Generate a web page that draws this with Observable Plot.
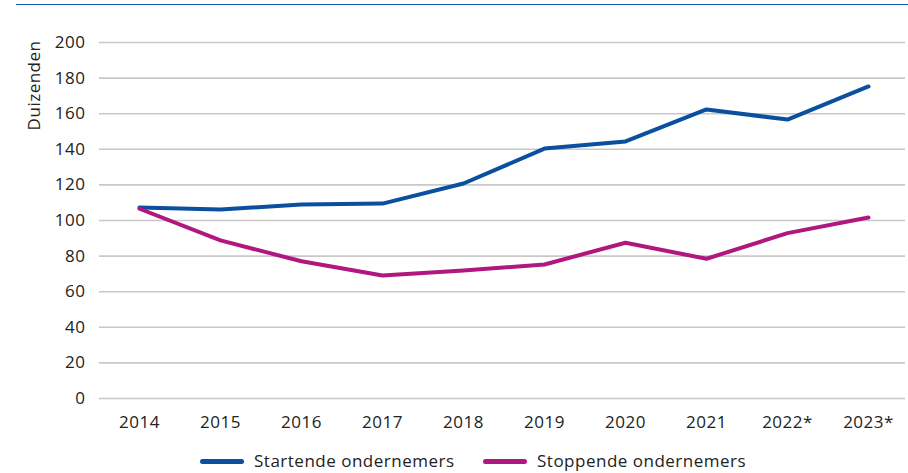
<!DOCTYPE html>
<html>
<head>
<meta charset="utf-8">
<script src="https://cdn.jsdelivr.net/npm/d3@7"></script>
<script src="https://cdn.jsdelivr.net/npm/@observablehq/plot@0.6"></script>
<style>
  html, body { margin: 0; padding: 0; background: #fff; }
  #wrap { position: relative; width: 908px; height: 473px; font-family: "Open Sans", sans-serif; color: #222; }
  #toprule { position: absolute; left: 16px; right: 0; top: 4px; height: 0; border-top: 1.6px solid #1b5cab; }
  #chart { position: absolute; left: 0; top: 0; }
  .leg { position: absolute; top: 449px; font-size: 17px; letter-spacing: 0.5px; line-height: 24px; display: flex; align-items: center; white-space: nowrap; }
  .sw { display: inline-block; width: 44px; height: 5px; border-radius: 3px; margin-right: 10px; }
</style>
</head>
<body>
<div id="wrap">
  <div id="toprule"></div>
  <div id="chart"></div>
  <div id="legend"></div>
</div>
<script>
const years = ["2014", "2015", "2016", "2017", "2018", "2019", "2020", "2021", "2022*", "2023*"];
const startende = [107.3, 106.2, 109.0, 109.5, 120.8, 140.4, 144.4, 162.4, 156.7, 175.3];
const stoppende = [106.6, 88.8, 77.1, 69.1, 71.9, 75.3, 87.5, 78.5, 92.9, 101.7];
const seriesNames = ["Startende ondernemers", "Stoppende ondernemers"];
const seriesColors = ["#0b4f9f", "#b0177f"];
const yTicks = [0, 20, 40, 60, 80, 100, 120, 140, 160, 180, 200];
const yLabel = "Duizenden";

const data = [];
years.forEach((y, i) => data.push({year: y, value: startende[i], series: seriesNames[0]}));
years.forEach((y, i) => data.push({year: y, value: stoppende[i], series: seriesNames[1]}));

const chart = Plot.plot({
  width: 908,
  height: 438,
  marginTop: 42,
  marginLeft: 98,
  marginRight: 0,
  marginBottom: 40,
  style: { fontFamily: "Open Sans", fontSize: "17px", letterSpacing: "0.5px", color: "#222", background: "transparent" },
  x: { type: "point", domain: years, padding: 0.5, label: null },
  y: { domain: [0, 200], label: null },
  color: { domain: seriesNames, range: seriesColors },
  marks: [
    Plot.ruleY(yTicks, { stroke: "#c8c8c8", strokeWidth: 1.6, insetLeft: 1, insetRight: 3 }),
    Plot.axisY({ ticks: yTicks, tickSize: 0, tickPadding: 13, label: null, fill: "#222" }),
    Plot.axisX({ tickSize: 0, tickPadding: 17, label: null, fill: "#222" }),
    Plot.lineY(data, { x: "year", y: "value", z: "series", stroke: "series", strokeWidth: 4, strokeLinecap: "round", strokeLinejoin: "round" }),
    Plot.text([yLabel], { frameAnchor: "top-left", rotate: -90, textAnchor: "end", lineAnchor: "middle", dx: -64, dy: -2, fill: "#222" })
  ]
});
document.getElementById("chart").appendChild(chart);

const legend = document.getElementById("legend");
const legLeft = [200, 483];
seriesNames.forEach((name, i) => {
  const item = document.createElement("div");
  item.className = "leg";
  item.style.left = legLeft[i] + "px";
  const sw = document.createElement("span");
  sw.className = "sw";
  sw.style.background = seriesColors[i];
  item.appendChild(sw);
  item.appendChild(document.createTextNode(name));
  legend.appendChild(item);
});
</script>
</body>
</html>
